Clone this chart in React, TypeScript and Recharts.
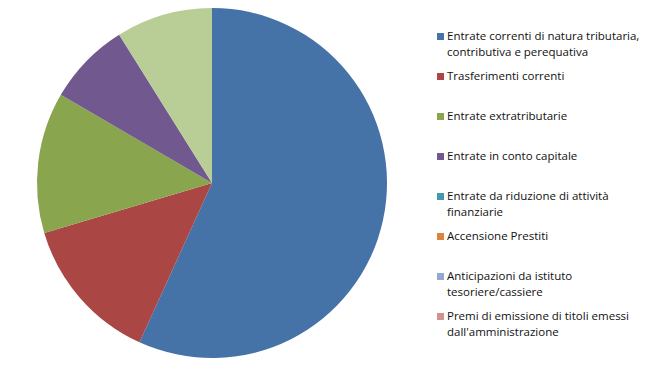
import React from 'react';
import { PieChart, Pie, Cell, Legend } from 'recharts';

const categories = [
  'Entrate correnti di natura tributaria, contributiva e perequativa',
  'Trasferimenti correnti',
  'Entrate extratributarie',
  'Entrate in conto capitale',
  'Entrate da riduzione di attività finanziarie',
  'Accensione Prestiti',
  'Anticipazioni da istituto tesoriere/cassiere',
  "Premi di emissione di titoli emessi dall'amministrazione",
  'Entrate per conto terzi e partite di giro',
];

const values = [56.8, 13.6, 13.0, 7.7, 0, 0, 0, 0, 8.9];

const colors = [
  '#4572A7',
  '#AA4643',
  '#89A54E',
  '#71588F',
  '#4198AF',
  '#DB843D',
  '#93A9CF',
  '#D19392',
  '#B9CD96',
];

// the legend in the source only shows the first eight entries
const legendCount = 8;

const data = categories.map((name, i) => ({ name, value: values[i], color: colors[i] }));

const CustomLegend = () => (
  <div style={{ width: 205, fontFamily: '"Open Sans", sans-serif', fontSize: 11.5, color: '#111' }}>
    {data.slice(0, legendCount).map((item, idx) => (
      <div key={idx} style={{ height: 40, display: 'flex', alignItems: 'flex-start', lineHeight: '16px' }}>
        <div
          style={{
            width: 7,
            height: 7,
            marginTop: 5,
            marginRight: 3,
            flexShrink: 0,
            backgroundColor: item.color,
          }}
        />
        <span>{item.name}</span>
      </div>
    ))}
  </div>
);

export default function App() {
  return (
    <div style={{ width: 641, height: 358, background: '#fff' }}>
      <PieChart width={641} height={358} margin={{ top: 0, right: 0, bottom: 0, left: 0 }}>
        <Pie
          data={data}
          dataKey="value"
          nameKey="name"
          cx={204}
          cy={175}
          outerRadius={175}
          startAngle={90}
          endAngle={-270}
          stroke="none"
          isAnimationActive={false}
        >
          {data.map((entry, index) => (
            <Cell key={`cell-${index}`} fill={entry.color} />
          ))}
        </Pie>
        <Legend
          content={<CustomLegend />}
          wrapperStyle={{ position: 'absolute', left: 429, top: 20, width: 205 }}
        />
      </PieChart>
    </div>
  );
}
